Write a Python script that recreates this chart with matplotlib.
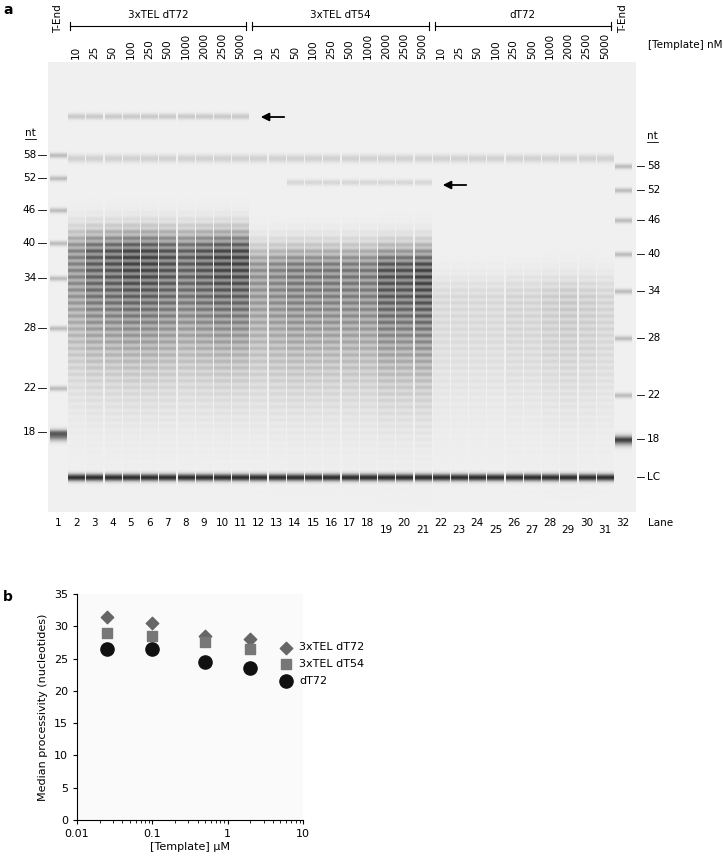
import numpy as np
import matplotlib
matplotlib.use("Agg")
import matplotlib.pyplot as plt
from matplotlib.ticker import FixedLocator, FixedFormatter, NullFormatter

# ---------------- data ----------------
conc_labels = ["10", "25", "50", "100", "250", "500", "1000", "2000", "2500", "5000"]
groups = ["3xTEL dT72", "3xTEL dT54", "dT72"]
left_nt = ["58", "52", "46", "40", "34", "28", "22", "18"]
left_nt_y = [155, 178, 210, 243, 278, 328, 388, 432]
right_nt_y = [166, 190, 220, 254, 291, 338, 395, 439]
# per-lane smear darkness (lanes 2..31)
smear_dark = [0.45, 0.6, 0.65, 0.7, 0.7, 0.65, 0.6, 0.65, 0.7, 0.7,
              0.4, 0.45, 0.5, 0.5, 0.5, 0.5, 0.5, 0.65, 0.65, 0.7,
              0.1, 0.1, 0.1, 0.1, 0.12, 0.12, 0.15, 0.17, 0.15, 0.12]
smear_top = [255] * 10 + [270] * 10 + [300] * 10
conc_uM = [0.025, 0.1, 0.5, 2.0]
proc_tel72 = [31.5, 30.5, 28.5, 28.0]
proc_tel54 = [29.0, 28.5, 27.5, 26.5]
proc_dt72 = [26.5, 26.5, 24.5, 23.5]

W, H = 723, 857
fig = plt.figure(figsize=(W / 100, H / 100), dpi=100)
ax = fig.add_axes([0, 0, 1, 1])
ax.set_xlim(0, W)
ax.set_ylim(H, 0)
ax.axis("off")

lane_x = [58 + i * (623 - 58) / 31 for i in range(32)]
lw = 17.0
y0, y1 = 62, 512
ys = np.arange(y0, y1)
xs = np.arange(48, 636)
img = np.full((len(ys), len(xs)), 0.06)
stripe = 0.5 + 0.5 * np.cos(2 * np.pi * (ys - y0) / 6.5)
for li, cx in enumerate(lane_x):
    col = np.zeros(len(ys))
    if li in (0, 31):
        for by in left_nt_y if li == 0 else right_nt_y:
            col += 0.2 * np.exp(-((ys - by) / 2.5) ** 2)
        col += 0.5 * np.exp(-((ys - (435 if li == 0 else 440)) / 5) ** 2)
    else:
        k = li - 1
        d = smear_dark[k]
        t = smear_top[k]
        prof = np.where(ys < t, np.exp(-((ys - t) / 25.0) ** 2), np.exp(-((ys - t) / 100.0) ** 2))
        col += d * prof * (0.55 + 0.45 * stripe)
        col += 0.75 * np.exp(-((ys - 477) / 3.5) ** 2)
        col += 0.12 * np.exp(-((ys - 158) / 4) ** 2)
        if k < 10:
            col += 0.15 * np.exp(-((ys - 116) / 3) ** 2)
        if 12 <= k < 20:
            col += 0.1 * np.exp(-((ys - 182) / 3) ** 2)
    mask = np.abs(xs - cx) < lw / 2
    img[:, mask] += col[:, None]
img = np.clip(img, 0, 1)
ax.imshow(1 - img, cmap="gray", vmin=0, vmax=1, extent=(48, 636, y1, y0), aspect="auto", zorder=0)

fs = 7.5
ax.text(3, 3, "a", fontsize=10, fontweight="bold", va="top")
ax.text(3, 590, "b", fontsize=10, fontweight="bold", va="top")
for li in (0, 31):
    ax.text(lane_x[li], 4, "T-End", rotation=90, fontsize=fs, ha="center", va="top")
for g in range(3):
    a, b = lane_x[1 + 10 * g] - 6, lane_x[10 + 10 * g] + 6
    ax.plot([a, b], [26, 26], color="k", lw=0.8)
    ax.plot([a, a], [22, 30], color="k", lw=0.8)
    ax.plot([b, b], [22, 30], color="k", lw=0.8)
    ax.text((a + b) / 2, 20, groups[g], fontsize=fs, ha="center", va="bottom")
    for j, c in enumerate(conc_labels):
        ax.text(lane_x[1 + 10 * g + j], 59, c, rotation=90, fontsize=fs, ha="center", va="bottom")
ax.text(648, 45, "[Template] nM", fontsize=fs, va="center")
ax.text(25, 133, "nt", fontsize=fs, ha="left", va="center")
ax.plot([25, 36], [139, 139], color="k", lw=0.6)
ax.text(647, 136, "nt", fontsize=fs, ha="left", va="center")
ax.plot([647, 658], [142, 142], color="k", lw=0.6)
for lab, ly, ry in zip(left_nt, left_nt_y, right_nt_y):
    ax.text(36, ly, lab, fontsize=fs, ha="right", va="center")
    ax.plot([38, 46], [ly, ly], color="k", lw=0.6)
    ax.text(647, ry, lab, fontsize=fs, ha="left", va="center")
    ax.plot([637, 644], [ry, ry], color="k", lw=0.6)
ax.plot([637, 644], [477, 477], color="k", lw=0.6)
ax.text(647, 477, "LC", fontsize=fs, ha="left", va="center")
for li, cx in enumerate(lane_x):
    n = li + 1
    yy = 530 if (n >= 19 and n % 2 == 1 and n < 32) else 523
    ax.text(cx, yy, str(n), fontsize=fs, ha="center", va="center")
ax.text(648, 523, "Lane", fontsize=fs, va="center")
ax.annotate("", xy=(258, 117), xytext=(287, 117),
            arrowprops=dict(arrowstyle="-|>", color="k", lw=1.3, mutation_scale=12))
ax.annotate("", xy=(440, 185), xytext=(469, 185),
            arrowprops=dict(arrowstyle="-|>", color="k", lw=1.3, mutation_scale=12))

# ---------------- panel b ----------------
bx = fig.add_axes([77 / W, 1 - 820 / H, (303 - 77) / W, (820 - 594) / H])
bx.set_facecolor("#fafafa")
bx.scatter(conc_uM, proc_tel72, marker="D", s=40, color="#666666", label="3xTEL dT72", zorder=3)
bx.scatter(conc_uM, proc_tel54, marker="s", s=50, color="#777777", label="3xTEL dT54", zorder=3)
bx.scatter(conc_uM, proc_dt72, marker="o", s=90, color="#111111", label="dT72", zorder=3)
bx.set_xscale("log")
bx.set_xlim(0.01, 10)
bx.set_ylim(0, 35)
bx.xaxis.set_major_locator(FixedLocator([0.01, 0.1, 1, 10]))
bx.xaxis.set_major_formatter(FixedFormatter(["0.01", "0.1", "1", "10"]))
bx.xaxis.set_minor_formatter(NullFormatter())
bx.set_yticks(range(0, 36, 5))
bx.tick_params(labelsize=8, length=3)
bx.tick_params(which="minor", length=2)
bx.spines["top"].set_visible(False)
bx.spines["right"].set_visible(False)
bx.set_xlabel("[Template] μM", fontsize=8, labelpad=2)
bx.set_ylabel("Median processivity (nucleotides)", fontsize=8)
bx.legend(loc="upper left", bbox_to_anchor=(0.83, 0.83), frameon=False, fontsize=8,
          handletextpad=0.2, labelspacing=0.6)

fig.savefig("out.png", dpi=100)
